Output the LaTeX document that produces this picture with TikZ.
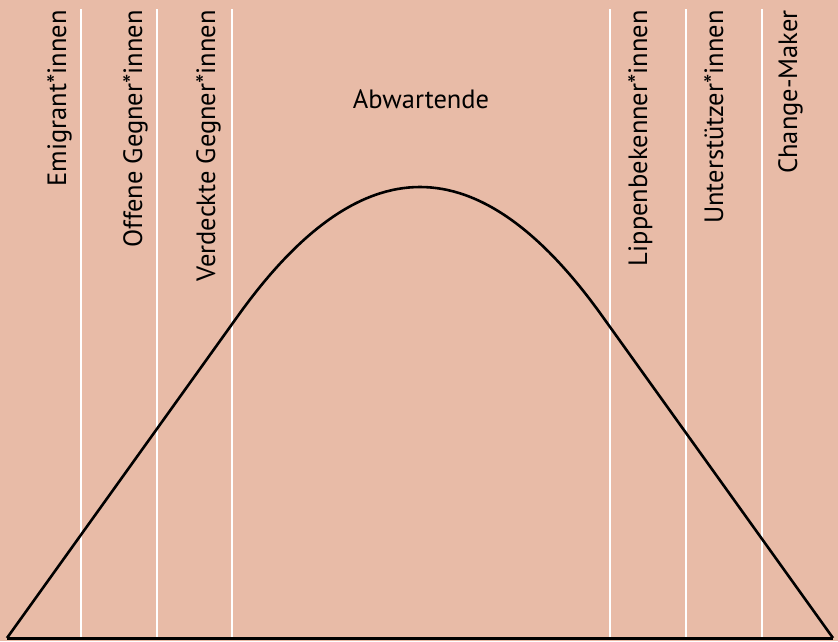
\documentclass[tikz,border=0pt]{standalone}
\usepackage{fontspec}
\setmainfont{PT Sans}
\definecolor{bgc}{RGB}{232,187,167}
\begin{document}
\begin{tikzpicture}[x=1pt,y=-1pt,
  vlab/.style={rotate=90,anchor=base east,inner sep=0pt,font=\fontsize{26.5}{30}\selectfont},
  hlab/.style={anchor=base,inner sep=0pt,font=\fontsize{26.5}{30}\selectfont},
  sep/.style={draw=white,line width=1.8pt},
  curve/.style={draw=black,line width=2.6pt,line join=round}]
\fill[bgc] (0,0) rectangle (838,641);
\useasboundingbox (0,0) rectangle (838,641);
% separators
\foreach \x/\n in {81/s1,157/s2,232/s3,610/s4,686/s5,762/s6}{
  \coordinate (\n t) at (\x,9);
  \coordinate (\n b) at (\x,637);
  \draw[sep] (\n t) -- (\n b);
}
% labels
\node[vlab] (l1) at (66,10) {Emigrant*innen};
\node[vlab] (l2) at (142,10) {Offene Gegner*innen};
\node[vlab] (l3) at (215,10) {Verdeckte Gegner*innen};
\node[vlab] (l4) at (647,10) {Lippenbekenner*innen};
\node[vlab] (l5) at (723,10) {Unterstützer*innen};
\node[vlab] (l6) at (797,10) {Change-Maker};
\node[hlab] (l0) at (421,108) {Abwartende};
% curve
\coordinate (p0) at (7,638);
\coordinate (p1) at (240,313);
\coordinate (pk) at (420,187);
\coordinate (p2) at (600,313);
\coordinate (p3) at (833,638);
\draw[curve] (p0) -- (p1) .. controls (300,230) and (360,187) .. (pk)
  .. controls (480,187) and (540,230) .. (p2) -- (p3);
% baseline
\draw[black,line width=3pt] (p0) -- (p3);
\end{tikzpicture}
\end{document}
